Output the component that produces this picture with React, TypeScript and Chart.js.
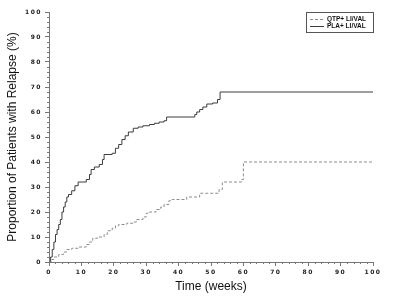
import { useEffect, useRef } from 'react';
import { Chart, registerables } from 'chart.js';

Chart.register(...registerables);

const seriesLabels = ['QTP+ LI/VAL', 'PLA+ LI/VAL'];
const xTitle = 'Time (weeks)';
const yTitle = 'Proportion of Patients with Relapse (%)';
const xTickValues = [0, 10, 20, 30, 40, 50, 60, 70, 80, 90, 100];
const yTickValues = [0, 10, 20, 30, 40, 50, 60, 70, 80, 90, 100];

const plaTimes = [0, 0.5, 1, 1.5, 2, 2.5, 3, 3.5, 4, 4.5, 5, 5.5, 6, 7, 8, 9, 11.5, 12.5, 13, 14, 15.5, 16.5, 17, 19.5, 20.5, 21.5, 22.5, 23.5, 24.5, 26, 27.5, 29, 31, 32.5, 34, 35.5, 36.3, 45, 45.6, 46.5, 47.5, 48.7, 50.5, 52, 52.8, 100];
const plaValues = [0, 2, 5, 8, 11, 13, 15, 17, 20, 22, 24, 26, 27, 28.5, 30.5, 32, 33, 35, 37, 38, 39, 41, 43, 43.5, 45.5, 47, 49, 50.5, 52, 53.5, 54, 54.5, 55, 55.5, 56, 56.5, 58, 59, 60, 61, 62, 63.2, 63.6, 65, 68, 68];

const qtpTimes = [0, 0.8, 1.5, 3, 4.5, 5.5, 7, 9, 11.5, 12.5, 13.5, 15, 17, 18, 19.5, 20.5, 21.5, 24, 26, 27, 29, 30, 31, 33, 34.5, 35.5, 37, 38, 42.5, 46.5, 52.5, 53.5, 59.5, 60, 100];
const qtpValues = [0, 1, 2, 3, 4, 5, 5.5, 6, 7, 8, 9.5, 10, 11, 12.5, 13.5, 14.5, 15, 15.5, 16, 17, 18, 19.5, 20, 21, 22, 23, 24.5, 25, 26, 27.5, 29, 32, 33, 40, 40];

const AXIS_COLOR = '#777777';
const QTP_COLOR = '#8c8c8c';
const PLA_COLOR = '#3c3c3c';

export default function App() {
  const ref = useRef<HTMLCanvasElement | null>(null);

  useEffect(() => {
    const canvas = ref.current;
    if (!canvas) return;

    const spacingPlugin = {
      id: 'spacing',
      beforeDraw(chart: any) {
        (chart.ctx as any).letterSpacing = '1.5px';
      },
    };

    const decorPlugin = {
      id: 'decor',
      afterDraw(chart: any) {
        const ctx = chart.ctx as CanvasRenderingContext2D;
        (ctx as any).letterSpacing = '0px';
        const xs = chart.scales.x;
        const ys = chart.scales.y;
        const area = chart.chartArea;
        ctx.save();
        // minor ticks
        ctx.strokeStyle = AXIS_COLOR;
        ctx.lineWidth = 1;
        ctx.beginPath();
        for (let v = 0; v <= 100; v += 2) {
          if (v % 10 === 0) continue;
          const px = Math.round(xs.getPixelForValue(v)) + 0.5;
          ctx.moveTo(px, area.bottom);
          ctx.lineTo(px, area.bottom + 2);
          const py = Math.round(ys.getPixelForValue(v)) + 0.5;
          ctx.moveTo(area.left, py);
          ctx.lineTo(area.left - 2, py);
        }
        ctx.stroke();

        // axis titles
        ctx.fillStyle = '#111';
        ctx.font = '12px "Liberation Sans", Arial, sans-serif';
        ctx.textAlign = 'center';
        ctx.textBaseline = 'middle';
        ctx.fillText(xTitle, (area.left + area.right) / 2, 287);
        ctx.save();
        ctx.translate(13, (area.top + area.bottom) / 2);
        ctx.rotate(-Math.PI / 2);
        ctx.fillText(yTitle, 0, 0);
        ctx.restore();

        // legend
        const bx = 306, by = 12, bw = 67, bh = 20;
        ctx.strokeStyle = '#555';
        ctx.lineWidth = 1;
        ctx.strokeRect(bx + 0.5, by + 0.5, bw, bh);
        const dsets = chart.data.datasets;
        const rows = [by + 7, by + 14];
        ctx.font = 'bold 6.5px "Liberation Sans", Arial, sans-serif';
        ctx.textAlign = 'left';
        for (let i = 0; i < 2; i++) {
          const d = dsets[i];
          ctx.beginPath();
          ctx.strokeStyle = d.borderColor;
          ctx.setLineDash(d.borderDash || []);
          ctx.moveTo(bx + 4, rows[i] + 0.5);
          ctx.lineTo(bx + 18, rows[i] + 0.5);
          ctx.stroke();
          ctx.setLineDash([]);
          ctx.fillStyle = '#111';
          ctx.fillText(d.label, bx + 21, rows[i] + 0.5);
        }
        ctx.restore();
      },
    };

    const tickFont = { family: '"DejaVu Sans", sans-serif', size: 6, weight: 'bold' as const };

    const chart = new Chart(canvas, {
      type: 'line',
      data: {
        datasets: [
          {
            label: seriesLabels[0],
            data: qtpTimes.map((t, i) => ({ x: t, y: qtpValues[i] })),
            borderColor: QTP_COLOR,
            borderWidth: 1,
            borderDash: [3, 2],
            pointRadius: 0,
            stepped: true,
            fill: false,
            clip: false as any,
          },
          {
            label: seriesLabels[1],
            data: plaTimes.map((t, i) => ({ x: t, y: plaValues[i] })),
            borderColor: PLA_COLOR,
            borderWidth: 1,
            pointRadius: 0,
            stepped: true,
            fill: false,
            clip: false as any,
          },
        ],
      },
      options: {
        responsive: false,
        animation: false,
        layout: { padding: { top: 12, right: 27, left: 0, bottom: 0 } },
        plugins: { legend: { display: false }, tooltip: { enabled: false } },
        scales: {
          x: {
            type: 'linear',
            min: 0,
            max: 100,
            afterBuildTicks(scale: any) {
              scale.ticks = xTickValues.map((v) => ({ value: v }));
            },
            afterFit(scale: any) {
              scale.height = 41;
            },
            ticks: { font: tickFont, color: '#222', padding: 3, maxRotation: 0, autoSkip: false },
            grid: { drawOnChartArea: false, drawTicks: true, tickLength: 4, color: AXIS_COLOR },
            border: { display: true, color: AXIS_COLOR },
          },
          y: {
            type: 'linear',
            min: 0,
            max: 100,
            afterBuildTicks(scale: any) {
              scale.ticks = yTickValues.map((v) => ({ value: v }));
            },
            afterFit(scale: any) {
              scale.width = 49;
            },
            ticks: { font: tickFont, color: '#222', padding: 3, autoSkip: false },
            grid: { drawOnChartArea: false, drawTicks: true, tickLength: 4, color: AXIS_COLOR },
            border: { display: true, color: AXIS_COLOR },
          },
        },
      },
      plugins: [spacingPlugin, decorPlugin],
    });

    return () => chart.destroy();
  }, []);

  return (
    <div style={{ position: 'absolute', left: 0, top: 0, width: 400, height: 303, background: '#fff' }}>
      <canvas ref={ref} width={400} height={303} />
    </div>
  );
}
